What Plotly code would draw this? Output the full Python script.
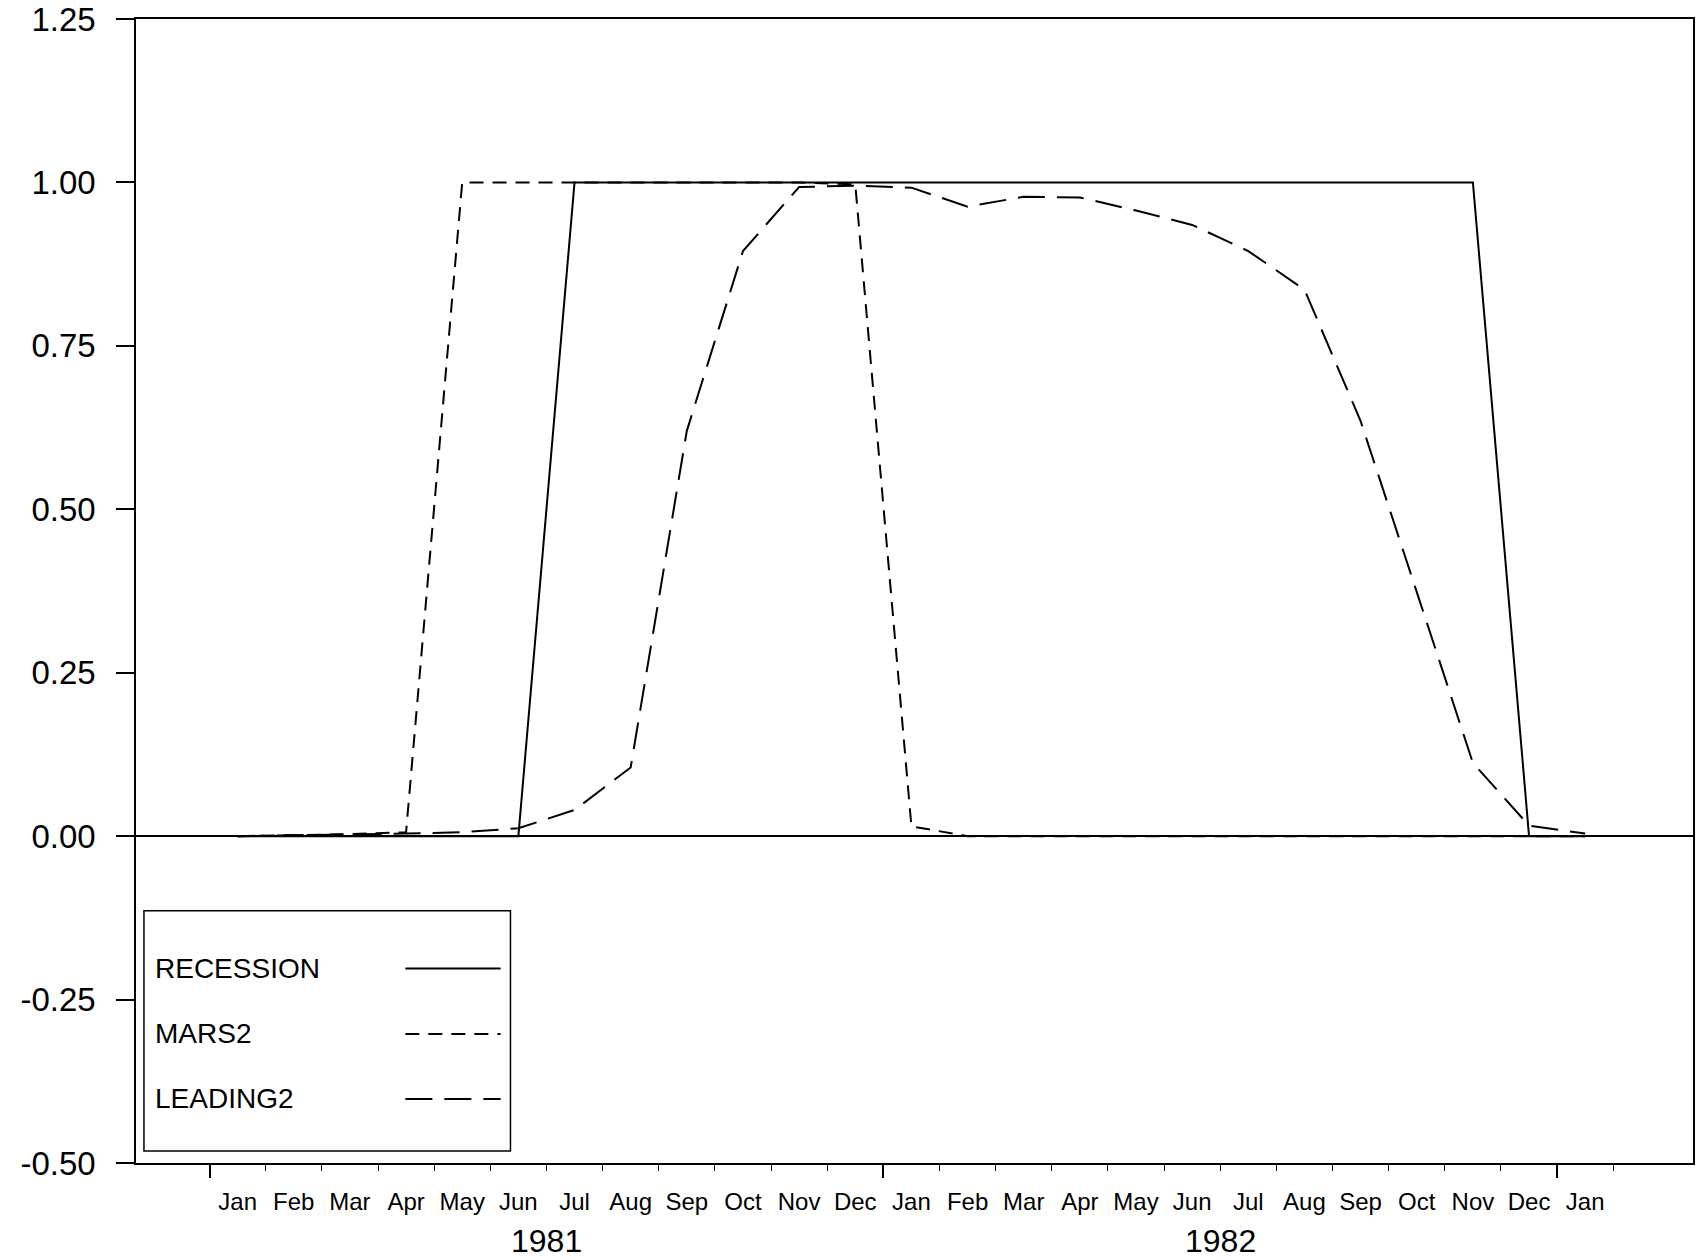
import plotly.graph_objects as go

# ---- data -------------------------------------------------------------
months = ["Jan", "Feb", "Mar", "Apr", "May", "Jun", "Jul", "Aug", "Sep", "Oct", "Nov", "Dec",
          "Jan", "Feb", "Mar", "Apr", "May", "Jun", "Jul", "Aug", "Sep", "Oct", "Nov", "Dec",
          "Jan"]
years = ["1981", "1982"]
recession = [0, 0, 0, 0, 0, 0, 1, 1, 1, 1, 1, 1,
             1, 1, 1, 1, 1, 1, 1, 1, 1, 1, 1, 0,
             0]
mars2 = [0.0, 0.001, 0.003, 0.006, 1.0, 1.0, 1.0, 1.0, 1.0, 1.0, 1.0, 0.997,
         0.015, 0.0, 0.0, 0.0, 0.0, 0.0, 0.0, 0.0, 0.0, 0.0, 0.0, 0.0,
         0.0]
leading2 = [0.0, 0.001, 0.002, 0.004, 0.006, 0.012, 0.04, 0.105, 0.62, 0.895, 0.993, 0.995,
            0.992, 0.963, 0.978, 0.977, 0.957, 0.935, 0.895, 0.836, 0.635, 0.375, 0.112, 0.016,
            0.004]
y_ticks = [1.25, 1.00, 0.75, 0.50, 0.25, 0.00, -0.25, -0.50]
y_ticktext = ["1.25", "1.00", "0.75", "0.50", "0.25", "0.00", "-0.25", "-0.50"]

x = list(range(len(months)))
boundaries = [i - 0.5 for i in range(len(months) + 1)]
year_bounds = [-0.5, 11.5, 23.5]
year_centers = [5.5, 17.5]

FONT = "Liberation Sans, Arial, sans-serif"
XR = [-1.81, 25.92]
MARS_DASH = "14px,9px"
LEAD_DASH = "27px,12px"

fig = go.Figure()
fig.add_trace(go.Scatter(x=x, y=recession, mode="lines", name="RECESSION",
                         line=dict(color="black", width=2)))
fig.add_trace(go.Scatter(x=x, y=mars2, mode="lines", name="MARS2",
                         line=dict(color="black", width=2, dash=MARS_DASH)))
fig.add_trace(go.Scatter(x=x, y=leading2, mode="lines", name="LEADING2",
                         line=dict(color="black", width=2, dash=LEAD_DASH)))
# invisible trace to activate the tick axis
fig.add_trace(go.Scatter(x=[x[0]], y=[0], xaxis="x2", mode="lines",
                         line=dict(width=0), showlegend=False, hoverinfo="skip"))

fig.update_layout(
    width=1696, height=1260,
    margin=dict(l=136, r=3, t=19, b=97, autoexpand=False),
    paper_bgcolor="white", plot_bgcolor="white",
    showlegend=False,
    font=dict(family=FONT, color="black"),
    xaxis=dict(range=XR, tickmode="array", tickvals=x, ticktext=months,
               ticks="", showgrid=False, zeroline=False, showline=True,
               linecolor="black", linewidth=1.5, mirror=True, automargin=False,
               tickfont=dict(size=24, family=FONT), ticklabelstandoff=16),
    xaxis2=dict(range=XR, overlaying="x", side="bottom", tickmode="array",
                tickvals=year_bounds, ticks="outside", ticklen=14, tickwidth=1.5,
                tickcolor="black", showticklabels=False, showgrid=False,
                zeroline=False, showline=False, automargin=False,
                minor=dict(tickmode="array", tickvals=boundaries, ticks="outside",
                           ticklen=7, tickwidth=1.2, tickcolor="black", showgrid=False)),
    yaxis=dict(range=[-0.5, 1.25], tickmode="array", tickvals=y_ticks, ticktext=y_ticktext,
               ticks="outside", ticklen=18, tickwidth=1.5, tickcolor="black",
               showgrid=False, showline=True, linecolor="black", linewidth=1.5,
               mirror=True, zeroline=True, zerolinecolor="black", zerolinewidth=1.5,
               automargin=False,
               tickfont=dict(size=33, family=FONT), ticklabelstandoff=14),
)

# year labels
for xc, yr in zip(year_centers, years):
    fig.add_annotation(x=xc, xref="x", y=-0.068, yref="paper", text=yr,
                       showarrow=False, font=dict(size=32, family=FONT),
                       xanchor="center", yanchor="middle")

# legend box (text left, line sample right)
fig.add_shape(type="rect", xref="paper", yref="paper", x0=0.0051, x1=0.2405,
              y0=0.0105, y1=0.2204, line=dict(color="black", width=1.5),
              fillcolor="white", layer="above")
legend_items = [("RECESSION", None, 0.1700), ("MARS2", MARS_DASH, 0.1128), ("LEADING2", LEAD_DASH, 0.0560)]
for name, dash, yy in legend_items:
    fig.add_annotation(x=0.0106, xref="paper", y=yy, yref="paper", text=name,
                       showarrow=False, font=dict(size=28, family=FONT),
                       xanchor="left", yanchor="middle")
    ln = dict(color="black", width=2)
    if dash:
        ln["dash"] = dash
    fig.add_shape(type="line", xref="paper", yref="paper", x0=0.1730, x1=0.2342,
                  y0=yy, y1=yy, line=ln, layer="above")

fig.write_html("out.html", config={"displayModeBar": False},
               post_script="document.body.style.margin='0';document.body.style.overflow='hidden';")
